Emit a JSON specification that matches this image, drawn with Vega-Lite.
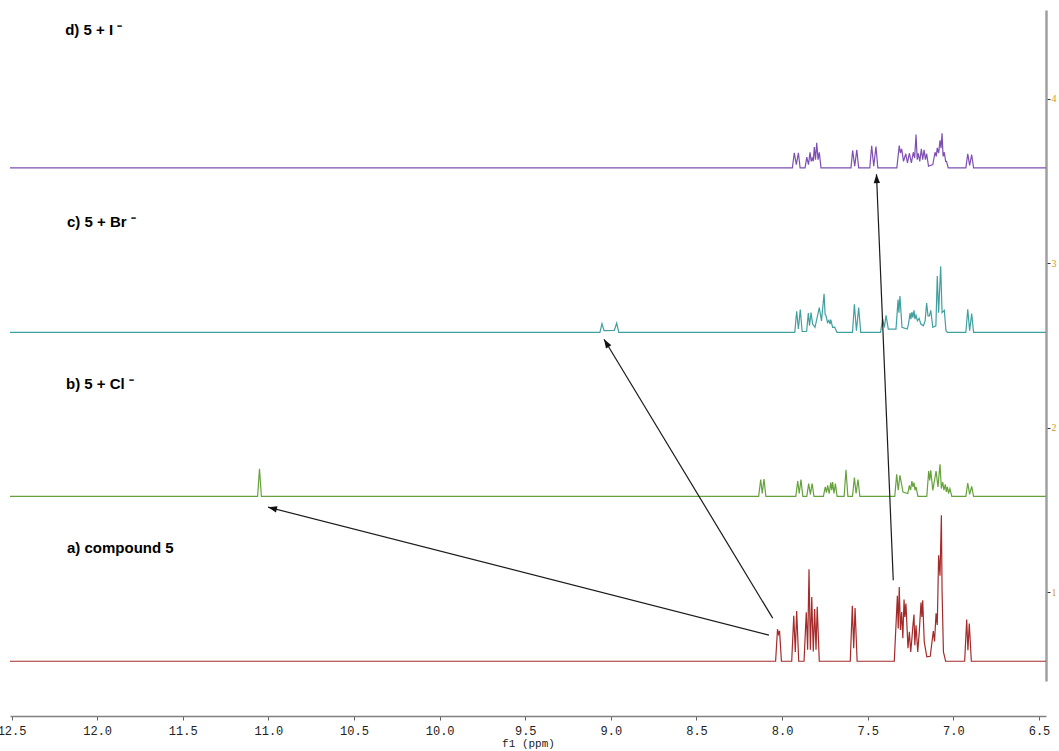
{
  "$schema": "https://vega.github.io/schema/vega-lite/v6.json",
  "width": 1036,
  "height": 671,
  "autosize": "none",
  "padding": {"left": 10, "top": 10, "right": 13, "bottom": 70},
  "background": "white",
  "config": {
    "view": {"stroke": null},
    "axisY": {
      "grid": false, "domainColor": "#a0a0a0", "domainWidth": 2.5,
      "tickColor": "#333333", "tickSize": 4,
      "labelFont": "Liberation Serif", "labelFontSize": 10, "labelColor": "#d09a20", "labelPadding": 1,
      "title": null
    }
  },
  "datasets": {
    "spectra": [
      {"spectrum": "a", "ppm": 12.509, "intensity": 0.58},
      {"spectrum": "a", "ppm": 8.038, "intensity": 0.58},
      {"spectrum": "a", "ppm": 8.027, "intensity": 0.775},
      {"spectrum": "a", "ppm": 8.021, "intensity": 0.745},
      {"spectrum": "a", "ppm": 8.015, "intensity": 0.765},
      {"spectrum": "a", "ppm": 8.004, "intensity": 0.58},
      {"spectrum": "a", "ppm": 7.944, "intensity": 0.58},
      {"spectrum": "a", "ppm": 7.932, "intensity": 0.856},
      {"spectrum": "a", "ppm": 7.923, "intensity": 0.637},
      {"spectrum": "a", "ppm": 7.915, "intensity": 0.886},
      {"spectrum": "a", "ppm": 7.903, "intensity": 0.58},
      {"spectrum": "a", "ppm": 7.872, "intensity": 0.58},
      {"spectrum": "a", "ppm": 7.859, "intensity": 0.878},
      {"spectrum": "a", "ppm": 7.851, "intensity": 0.65},
      {"spectrum": "a", "ppm": 7.843, "intensity": 1.14},
      {"spectrum": "a", "ppm": 7.835, "intensity": 0.65},
      {"spectrum": "a", "ppm": 7.827, "intensity": 0.97},
      {"spectrum": "a", "ppm": 7.818, "intensity": 0.64},
      {"spectrum": "a", "ppm": 7.81, "intensity": 0.897},
      {"spectrum": "a", "ppm": 7.802, "intensity": 0.65},
      {"spectrum": "a", "ppm": 7.795, "intensity": 0.911},
      {"spectrum": "a", "ppm": 7.783, "intensity": 0.58},
      {"spectrum": "a", "ppm": 7.602, "intensity": 0.58},
      {"spectrum": "a", "ppm": 7.59, "intensity": 0.917},
      {"spectrum": "a", "ppm": 7.582, "intensity": 0.66},
      {"spectrum": "a", "ppm": 7.574, "intensity": 0.903},
      {"spectrum": "a", "ppm": 7.562, "intensity": 0.58},
      {"spectrum": "a", "ppm": 7.345, "intensity": 0.58},
      {"spectrum": "a", "ppm": 7.327, "intensity": 0.978},
      {"spectrum": "a", "ppm": 7.322, "intensity": 0.78},
      {"spectrum": "a", "ppm": 7.316, "intensity": 1.032},
      {"spectrum": "a", "ppm": 7.309, "intensity": 0.77},
      {"spectrum": "a", "ppm": 7.302, "intensity": 0.88},
      {"spectrum": "a", "ppm": 7.295, "intensity": 0.72},
      {"spectrum": "a", "ppm": 7.288, "intensity": 0.956},
      {"spectrum": "a", "ppm": 7.283, "intensity": 0.85},
      {"spectrum": "a", "ppm": 7.277, "intensity": 0.931},
      {"spectrum": "a", "ppm": 7.265, "intensity": 0.66},
      {"spectrum": "a", "ppm": 7.257, "intensity": 0.759},
      {"spectrum": "a", "ppm": 7.249, "intensity": 0.637},
      {"spectrum": "a", "ppm": 7.242, "intensity": 0.719},
      {"spectrum": "a", "ppm": 7.236, "intensity": 0.8},
      {"spectrum": "a", "ppm": 7.23, "intensity": 0.864},
      {"spectrum": "a", "ppm": 7.225, "intensity": 0.678},
      {"spectrum": "a", "ppm": 7.218, "intensity": 0.799},
      {"spectrum": "a", "ppm": 7.208, "intensity": 0.637},
      {"spectrum": "a", "ppm": 7.199, "intensity": 0.759},
      {"spectrum": "a", "ppm": 7.194, "intensity": 0.85},
      {"spectrum": "a", "ppm": 7.189, "intensity": 0.937},
      {"spectrum": "a", "ppm": 7.184, "intensity": 0.85},
      {"spectrum": "a", "ppm": 7.179, "intensity": 0.951},
      {"spectrum": "a", "ppm": 7.17, "intensity": 0.698},
      {"spectrum": "a", "ppm": 7.155, "intensity": 0.607},
      {"spectrum": "a", "ppm": 7.135, "intensity": 0.61},
      {"spectrum": "a", "ppm": 7.117, "intensity": 0.763},
      {"spectrum": "a", "ppm": 7.11, "intensity": 0.7},
      {"spectrum": "a", "ppm": 7.101, "intensity": 0.871},
      {"spectrum": "a", "ppm": 7.094, "intensity": 0.8},
      {"spectrum": "a", "ppm": 7.086, "intensity": 1.225},
      {"spectrum": "a", "ppm": 7.078, "intensity": 1.1},
      {"spectrum": "a", "ppm": 7.07, "intensity": 1.468},
      {"spectrum": "a", "ppm": 7.066, "intensity": 1.012},
      {"spectrum": "a", "ppm": 7.058, "intensity": 0.637},
      {"spectrum": "a", "ppm": 7.045, "intensity": 0.58},
      {"spectrum": "a", "ppm": 6.934, "intensity": 0.58},
      {"spectrum": "a", "ppm": 6.922, "intensity": 0.834},
      {"spectrum": "a", "ppm": 6.915, "intensity": 0.647},
      {"spectrum": "a", "ppm": 6.907, "intensity": 0.81},
      {"spectrum": "a", "ppm": 6.895, "intensity": 0.58},
      {"spectrum": "a", "ppm": 6.459, "intensity": 0.58},

      {"spectrum": "b", "ppm": 12.509, "intensity": 1.583},
      {"spectrum": "b", "ppm": 11.063, "intensity": 1.583},
      {"spectrum": "b", "ppm": 11.052, "intensity": 1.751},
      {"spectrum": "b", "ppm": 11.041, "intensity": 1.583},
      {"spectrum": "b", "ppm": 8.137, "intensity": 1.583},
      {"spectrum": "b", "ppm": 8.125, "intensity": 1.685},
      {"spectrum": "b", "ppm": 8.116, "intensity": 1.6},
      {"spectrum": "b", "ppm": 8.106, "intensity": 1.688},
      {"spectrum": "b", "ppm": 8.095, "intensity": 1.583},
      {"spectrum": "b", "ppm": 7.92, "intensity": 1.583},
      {"spectrum": "b", "ppm": 7.909, "intensity": 1.676},
      {"spectrum": "b", "ppm": 7.9, "intensity": 1.6},
      {"spectrum": "b", "ppm": 7.89, "intensity": 1.685},
      {"spectrum": "b", "ppm": 7.879, "intensity": 1.583},
      {"spectrum": "b", "ppm": 7.856, "intensity": 1.583},
      {"spectrum": "b", "ppm": 7.845, "intensity": 1.66},
      {"spectrum": "b", "ppm": 7.835, "intensity": 1.595},
      {"spectrum": "b", "ppm": 7.825, "intensity": 1.66},
      {"spectrum": "b", "ppm": 7.814, "intensity": 1.583},
      {"spectrum": "b", "ppm": 7.759, "intensity": 1.583},
      {"spectrum": "b", "ppm": 7.748, "intensity": 1.64},
      {"spectrum": "b", "ppm": 7.741, "intensity": 1.605},
      {"spectrum": "b", "ppm": 7.734, "intensity": 1.65},
      {"spectrum": "b", "ppm": 7.725, "intensity": 1.6},
      {"spectrum": "b", "ppm": 7.716, "intensity": 1.666},
      {"spectrum": "b", "ppm": 7.71, "intensity": 1.62},
      {"spectrum": "b", "ppm": 7.705, "intensity": 1.67},
      {"spectrum": "b", "ppm": 7.697, "intensity": 1.6},
      {"spectrum": "b", "ppm": 7.689, "intensity": 1.66},
      {"spectrum": "b", "ppm": 7.679, "intensity": 1.583},
      {"spectrum": "b", "ppm": 7.638, "intensity": 1.583},
      {"spectrum": "b", "ppm": 7.627, "intensity": 1.745},
      {"spectrum": "b", "ppm": 7.616, "intensity": 1.583},
      {"spectrum": "b", "ppm": 7.589, "intensity": 1.583},
      {"spectrum": "b", "ppm": 7.578, "intensity": 1.697},
      {"spectrum": "b", "ppm": 7.568, "intensity": 1.6},
      {"spectrum": "b", "ppm": 7.557, "intensity": 1.685},
      {"spectrum": "b", "ppm": 7.546, "intensity": 1.583},
      {"spectrum": "b", "ppm": 7.342, "intensity": 1.583},
      {"spectrum": "b", "ppm": 7.331, "intensity": 1.717},
      {"spectrum": "b", "ppm": 7.322, "intensity": 1.62},
      {"spectrum": "b", "ppm": 7.312, "intensity": 1.711},
      {"spectrum": "b", "ppm": 7.294, "intensity": 1.609},
      {"spectrum": "b", "ppm": 7.266, "intensity": 1.6},
      {"spectrum": "b", "ppm": 7.257, "intensity": 1.65},
      {"spectrum": "b", "ppm": 7.25, "intensity": 1.62},
      {"spectrum": "b", "ppm": 7.242, "intensity": 1.676},
      {"spectrum": "b", "ppm": 7.236, "intensity": 1.64},
      {"spectrum": "b", "ppm": 7.23, "intensity": 1.666},
      {"spectrum": "b", "ppm": 7.224, "intensity": 1.62},
      {"spectrum": "b", "ppm": 7.218, "intensity": 1.64},
      {"spectrum": "b", "ppm": 7.207, "intensity": 1.583},
      {"spectrum": "b", "ppm": 7.155, "intensity": 1.583},
      {"spectrum": "b", "ppm": 7.144, "intensity": 1.737},
      {"spectrum": "b", "ppm": 7.138, "intensity": 1.68},
      {"spectrum": "b", "ppm": 7.132, "intensity": 1.741},
      {"spectrum": "b", "ppm": 7.12, "intensity": 1.619},
      {"spectrum": "b", "ppm": 7.101, "intensity": 1.737},
      {"spectrum": "b", "ppm": 7.09, "intensity": 1.64},
      {"spectrum": "b", "ppm": 7.078, "intensity": 1.778},
      {"spectrum": "b", "ppm": 7.07, "intensity": 1.63},
      {"spectrum": "b", "ppm": 7.062, "intensity": 1.67},
      {"spectrum": "b", "ppm": 7.055, "intensity": 1.62},
      {"spectrum": "b", "ppm": 7.047, "intensity": 1.656},
      {"spectrum": "b", "ppm": 7.041, "intensity": 1.61},
      {"spectrum": "b", "ppm": 7.035, "intensity": 1.64},
      {"spectrum": "b", "ppm": 7.028, "intensity": 1.6},
      {"spectrum": "b", "ppm": 7.02, "intensity": 1.63},
      {"spectrum": "b", "ppm": 7.009, "intensity": 1.583},
      {"spectrum": "b", "ppm": 6.927, "intensity": 1.583},
      {"spectrum": "b", "ppm": 6.916, "intensity": 1.664},
      {"spectrum": "b", "ppm": 6.905, "intensity": 1.595},
      {"spectrum": "b", "ppm": 6.893, "intensity": 1.644},
      {"spectrum": "b", "ppm": 6.882, "intensity": 1.583},
      {"spectrum": "b", "ppm": 6.459, "intensity": 1.583},

      {"spectrum": "c", "ppm": 12.509, "intensity": 2.58},
      {"spectrum": "c", "ppm": 9.064, "intensity": 2.58},
      {"spectrum": "c", "ppm": 9.052, "intensity": 2.633},
      {"spectrum": "c", "ppm": 9.04, "intensity": 2.59},
      {"spectrum": "c", "ppm": 8.98, "intensity": 2.592},
      {"spectrum": "c", "ppm": 8.966, "intensity": 2.637},
      {"spectrum": "c", "ppm": 8.954, "intensity": 2.58},
      {"spectrum": "c", "ppm": 7.926, "intensity": 2.58},
      {"spectrum": "c", "ppm": 7.915, "intensity": 2.708},
      {"spectrum": "c", "ppm": 7.905, "intensity": 2.6},
      {"spectrum": "c", "ppm": 7.894, "intensity": 2.718},
      {"spectrum": "c", "ppm": 7.883, "intensity": 2.585},
      {"spectrum": "c", "ppm": 7.857, "intensity": 2.585},
      {"spectrum": "c", "ppm": 7.847, "intensity": 2.697},
      {"spectrum": "c", "ppm": 7.84, "intensity": 2.62},
      {"spectrum": "c", "ppm": 7.831, "intensity": 2.7},
      {"spectrum": "c", "ppm": 7.822, "intensity": 2.63},
      {"spectrum": "c", "ppm": 7.808, "intensity": 2.61},
      {"spectrum": "c", "ppm": 7.783, "intensity": 2.73},
      {"spectrum": "c", "ppm": 7.77, "intensity": 2.65},
      {"spectrum": "c", "ppm": 7.755, "intensity": 2.815},
      {"spectrum": "c", "ppm": 7.749, "intensity": 2.69},
      {"spectrum": "c", "ppm": 7.744, "intensity": 2.683},
      {"spectrum": "c", "ppm": 7.735, "intensity": 2.64},
      {"spectrum": "c", "ppm": 7.727, "intensity": 2.653},
      {"spectrum": "c", "ppm": 7.72, "intensity": 2.63},
      {"spectrum": "c", "ppm": 7.716, "intensity": 2.657},
      {"spectrum": "c", "ppm": 7.705, "intensity": 2.61},
      {"spectrum": "c", "ppm": 7.693, "intensity": 2.612},
      {"spectrum": "c", "ppm": 7.68, "intensity": 2.58},
      {"spectrum": "c", "ppm": 7.589, "intensity": 2.58},
      {"spectrum": "c", "ppm": 7.578, "intensity": 2.75},
      {"spectrum": "c", "ppm": 7.566, "intensity": 2.59},
      {"spectrum": "c", "ppm": 7.553, "intensity": 2.73},
      {"spectrum": "c", "ppm": 7.541, "intensity": 2.58},
      {"spectrum": "c", "ppm": 7.425, "intensity": 2.58},
      {"spectrum": "c", "ppm": 7.413, "intensity": 2.663},
      {"spectrum": "c", "ppm": 7.403, "intensity": 2.61},
      {"spectrum": "c", "ppm": 7.393, "intensity": 2.683},
      {"spectrum": "c", "ppm": 7.38, "intensity": 2.6},
      {"spectrum": "c", "ppm": 7.335, "intensity": 2.6},
      {"spectrum": "c", "ppm": 7.323, "intensity": 2.779},
      {"spectrum": "c", "ppm": 7.318, "intensity": 2.7},
      {"spectrum": "c", "ppm": 7.312, "intensity": 2.801},
      {"spectrum": "c", "ppm": 7.3, "intensity": 2.61},
      {"spectrum": "c", "ppm": 7.27, "intensity": 2.6},
      {"spectrum": "c", "ppm": 7.262, "intensity": 2.63},
      {"spectrum": "c", "ppm": 7.253, "intensity": 2.697},
      {"spectrum": "c", "ppm": 7.248, "intensity": 2.66},
      {"spectrum": "c", "ppm": 7.242, "intensity": 2.703},
      {"spectrum": "c", "ppm": 7.236, "intensity": 2.67},
      {"spectrum": "c", "ppm": 7.23, "intensity": 2.714},
      {"spectrum": "c", "ppm": 7.224, "intensity": 2.66},
      {"spectrum": "c", "ppm": 7.218, "intensity": 2.683},
      {"spectrum": "c", "ppm": 7.21, "intensity": 2.65},
      {"spectrum": "c", "ppm": 7.2, "intensity": 2.665},
      {"spectrum": "c", "ppm": 7.19, "intensity": 2.63},
      {"spectrum": "c", "ppm": 7.175, "intensity": 2.62},
      {"spectrum": "c", "ppm": 7.165, "intensity": 2.65},
      {"spectrum": "c", "ppm": 7.156, "intensity": 2.758},
      {"spectrum": "c", "ppm": 7.148, "intensity": 2.68},
      {"spectrum": "c", "ppm": 7.14, "intensity": 2.68},
      {"spectrum": "c", "ppm": 7.132, "intensity": 2.714},
      {"spectrum": "c", "ppm": 7.12, "intensity": 2.61},
      {"spectrum": "c", "ppm": 7.102, "intensity": 2.62},
      {"spectrum": "c", "ppm": 7.094, "intensity": 2.922},
      {"spectrum": "c", "ppm": 7.086, "intensity": 2.7},
      {"spectrum": "c", "ppm": 7.074, "intensity": 2.981},
      {"spectrum": "c", "ppm": 7.066, "intensity": 2.7},
      {"spectrum": "c", "ppm": 7.053, "intensity": 2.714},
      {"spectrum": "c", "ppm": 7.043, "intensity": 2.59},
      {"spectrum": "c", "ppm": 7.035, "intensity": 2.58},
      {"spectrum": "c", "ppm": 6.927, "intensity": 2.58},
      {"spectrum": "c", "ppm": 6.916, "intensity": 2.72},
      {"spectrum": "c", "ppm": 6.905, "intensity": 2.59},
      {"spectrum": "c", "ppm": 6.893, "intensity": 2.694},
      {"spectrum": "c", "ppm": 6.882, "intensity": 2.58},
      {"spectrum": "c", "ppm": 6.459, "intensity": 2.58},

      {"spectrum": "d", "ppm": 12.509, "intensity": 3.58},
      {"spectrum": "d", "ppm": 7.94, "intensity": 3.58},
      {"spectrum": "d", "ppm": 7.929, "intensity": 3.672},
      {"spectrum": "d", "ppm": 7.917, "intensity": 3.6},
      {"spectrum": "d", "ppm": 7.905, "intensity": 3.672},
      {"spectrum": "d", "ppm": 7.895, "intensity": 3.58},
      {"spectrum": "d", "ppm": 7.866, "intensity": 3.58},
      {"spectrum": "d", "ppm": 7.856, "intensity": 3.645},
      {"spectrum": "d", "ppm": 7.846, "intensity": 3.6},
      {"spectrum": "d", "ppm": 7.837, "intensity": 3.675},
      {"spectrum": "d", "ppm": 7.83, "intensity": 3.62},
      {"spectrum": "d", "ppm": 7.824, "intensity": 3.639},
      {"spectrum": "d", "ppm": 7.818, "intensity": 3.62},
      {"spectrum": "d", "ppm": 7.812, "intensity": 3.706},
      {"spectrum": "d", "ppm": 7.805, "intensity": 3.63},
      {"spectrum": "d", "ppm": 7.798, "intensity": 3.733},
      {"spectrum": "d", "ppm": 7.79, "intensity": 3.63},
      {"spectrum": "d", "ppm": 7.783, "intensity": 3.675},
      {"spectrum": "d", "ppm": 7.773, "intensity": 3.58},
      {"spectrum": "d", "ppm": 7.598, "intensity": 3.58},
      {"spectrum": "d", "ppm": 7.588, "intensity": 3.686},
      {"spectrum": "d", "ppm": 7.576, "intensity": 3.59},
      {"spectrum": "d", "ppm": 7.564, "intensity": 3.69},
      {"spectrum": "d", "ppm": 7.553, "intensity": 3.58},
      {"spectrum": "d", "ppm": 7.488, "intensity": 3.58},
      {"spectrum": "d", "ppm": 7.477, "intensity": 3.714},
      {"spectrum": "d", "ppm": 7.465, "intensity": 3.59},
      {"spectrum": "d", "ppm": 7.452, "intensity": 3.71},
      {"spectrum": "d", "ppm": 7.441, "intensity": 3.58},
      {"spectrum": "d", "ppm": 7.33, "intensity": 3.58},
      {"spectrum": "d", "ppm": 7.316, "intensity": 3.716},
      {"spectrum": "d", "ppm": 7.309, "intensity": 3.67},
      {"spectrum": "d", "ppm": 7.302, "intensity": 3.696},
      {"spectrum": "d", "ppm": 7.291, "intensity": 3.62},
      {"spectrum": "d", "ppm": 7.278, "intensity": 3.666},
      {"spectrum": "d", "ppm": 7.268, "intensity": 3.61},
      {"spectrum": "d", "ppm": 7.257, "intensity": 3.669},
      {"spectrum": "d", "ppm": 7.245, "intensity": 3.61},
      {"spectrum": "d", "ppm": 7.234, "intensity": 3.675},
      {"spectrum": "d", "ppm": 7.226, "intensity": 3.64},
      {"spectrum": "d", "ppm": 7.218, "intensity": 3.783},
      {"spectrum": "d", "ppm": 7.211, "intensity": 3.63},
      {"spectrum": "d", "ppm": 7.205, "intensity": 3.669},
      {"spectrum": "d", "ppm": 7.196, "intensity": 3.62},
      {"spectrum": "d", "ppm": 7.187, "intensity": 3.696},
      {"spectrum": "d", "ppm": 7.179, "intensity": 3.63},
      {"spectrum": "d", "ppm": 7.171, "intensity": 3.69},
      {"spectrum": "d", "ppm": 7.163, "intensity": 3.63},
      {"spectrum": "d", "ppm": 7.156, "intensity": 3.666},
      {"spectrum": "d", "ppm": 7.145, "intensity": 3.59},
      {"spectrum": "d", "ppm": 7.12, "intensity": 3.6},
      {"spectrum": "d", "ppm": 7.107, "intensity": 3.675},
      {"spectrum": "d", "ppm": 7.1, "intensity": 3.65},
      {"spectrum": "d", "ppm": 7.094, "intensity": 3.702},
      {"spectrum": "d", "ppm": 7.086, "intensity": 3.67},
      {"spectrum": "d", "ppm": 7.078, "intensity": 3.747},
      {"spectrum": "d", "ppm": 7.072, "intensity": 3.7},
      {"spectrum": "d", "ppm": 7.066, "intensity": 3.791},
      {"spectrum": "d", "ppm": 7.06, "intensity": 3.65},
      {"spectrum": "d", "ppm": 7.053, "intensity": 3.675},
      {"spectrum": "d", "ppm": 7.045, "intensity": 3.62},
      {"spectrum": "d", "ppm": 7.04, "intensity": 3.62},
      {"spectrum": "d", "ppm": 7.03, "intensity": 3.58},
      {"spectrum": "d", "ppm": 6.927, "intensity": 3.58},
      {"spectrum": "d", "ppm": 6.916, "intensity": 3.666},
      {"spectrum": "d", "ppm": 6.905, "intensity": 3.595},
      {"spectrum": "d", "ppm": 6.893, "intensity": 3.66},
      {"spectrum": "d", "ppm": 6.882, "intensity": 3.58},
      {"spectrum": "d", "ppm": 6.459, "intensity": 3.58}
    ],
    "labels": [
      {"label": "d) 5 + I ⁻", "ppm": 12.187, "intensity": 4.416},
      {"label": "c) 5 + Br ⁻", "ppm": 12.176, "intensity": 3.249},
      {"label": "b) 5 + Cl ⁻", "ppm": 12.182, "intensity": 2.264},
      {"label": "a) compound 5", "ppm": 12.176, "intensity": 1.267}
    ],
    "arrows": [
      {"arrow": 1, "ppm": 8.077, "intensity": 0.739, "ppmEnd": 11.002, "intensityEnd": 1.517},
      {"arrow": 2, "ppm": 8.055, "intensity": 0.842, "ppmEnd": 9.04, "intensityEnd": 2.538},
      {"arrow": 3, "ppm": 7.351, "intensity": 1.073, "ppmEnd": 7.449, "intensityEnd": 3.541}
    ]
  },
  "layer": [
    {
      "data": {"name": "spectra"},
      "mark": {"type": "line", "strokeWidth": 1.2, "interpolate": "linear"},
      "encoding": {
        "x": {
          "field": "ppm", "type": "quantitative",
          "scale": {"domain": [6.459, 12.509], "reverse": true, "nice": false, "zero": false},
          "axis": {
            "values": [12.5, 12.0, 11.5, 11.0, 10.5, 10.0, 9.5, 9.0, 8.5, 8.0, 7.5, 7.0, 6.5],
            "format": ".1f", "offset": 35, "grid": false,
            "domainColor": "#808080", "domainWidth": 1.5,
            "tickColor": "#606060", "tickSize": 4,
            "labelFont": "Liberation Mono", "labelFontSize": 12, "labelColor": "#222222", "labelPadding": 5,
            "labelFlush": false, "labelOverlap": false,
            "title": "f1 (ppm)", "titleFont": "Liberation Mono", "titleFontSize": 11,
            "titleFontWeight": "normal", "titleColor": "#222222", "titlePadding": 1
          }
        },
        "y": {
          "field": "intensity", "type": "quantitative",
          "scale": {"domain": [0.46, 4.54], "nice": false, "zero": false},
          "axis": {"orient": "right", "values": [1, 2, 3, 4], "format": "d"}
        },
        "color": {
          "field": "spectrum", "type": "nominal",
          "scale": {"domain": ["a", "b", "c", "d"], "range": ["#a52a2a", "#66a23c", "#40a0a0", "#7d4fb3"]},
          "legend": null
        }
      }
    },
    {
      "data": {"name": "arrows"},
      "mark": {"type": "rule", "color": "#1a1a1a", "strokeWidth": 1.2},
      "encoding": {
        "x": {
          "field": "ppm", "type": "quantitative",
          "axis": {
            "values": [12.25, 11.75, 11.25, 10.75, 10.25, 9.75, 9.25, 8.75, 8.25, 7.75, 7.25, 6.75],
            "offset": 35, "labels": false, "domain": false, "grid": false,
            "tickColor": "#606060", "tickSize": 2, "title": null
          }
        },
        "y": {"field": "intensity", "type": "quantitative", "axis": {"orient": "right", "values": [1, 2, 3, 4], "format": "d"}},
        "x2": {"field": "ppmEnd"},
        "y2": {"field": "intensityEnd"}
      }
    },
    {
      "data": {"name": "arrows"},
      "transform": [{"filter": "datum.arrow == 1"}],
      "mark": {"type": "point", "shape": "M0,0L0.35,1L-0.35,1Z", "filled": true, "color": "#111111", "opacity": 1, "size": 320, "angle": 284.3},
      "encoding": {
        "x": {"field": "ppmEnd", "type": "quantitative", "axis": null},
        "y": {"field": "intensityEnd", "type": "quantitative", "axis": {"orient": "right", "values": [1, 2, 3, 4], "format": "d"}}
      }
    },
    {
      "data": {"name": "arrows"},
      "transform": [{"filter": "datum.arrow == 2"}],
      "mark": {"type": "point", "shape": "M0,0L0.35,1L-0.35,1Z", "filled": true, "color": "#111111", "opacity": 1, "size": 320, "angle": 328.8},
      "encoding": {
        "x": {"field": "ppmEnd", "type": "quantitative", "axis": null},
        "y": {"field": "intensityEnd", "type": "quantitative", "axis": {"orient": "right", "values": [1, 2, 3, 4], "format": "d"}}
      }
    },
    {
      "data": {"name": "arrows"},
      "transform": [{"filter": "datum.arrow == 3"}],
      "mark": {"type": "point", "shape": "M0,0L0.35,1L-0.35,1Z", "filled": true, "color": "#111111", "opacity": 1, "size": 320, "angle": 357.6},
      "encoding": {
        "x": {"field": "ppmEnd", "type": "quantitative", "axis": null},
        "y": {"field": "intensityEnd", "type": "quantitative", "axis": {"orient": "right", "values": [1, 2, 3, 4], "format": "d"}}
      }
    },
    {
      "data": {"name": "labels"},
      "mark": {"type": "text", "align": "left", "baseline": "middle", "font": "Liberation Sans", "fontWeight": "bold", "fontSize": 15, "color": "#000000"},
      "encoding": {
        "x": {"field": "ppm", "type": "quantitative", "axis": null},
        "y": {"field": "intensity", "type": "quantitative", "axis": {"orient": "right", "values": [1, 2, 3, 4], "format": "d"}},
        "text": {"field": "label"}
      }
    }
  ],
  "resolve": {"axis": {"x": "independent"}}
}
